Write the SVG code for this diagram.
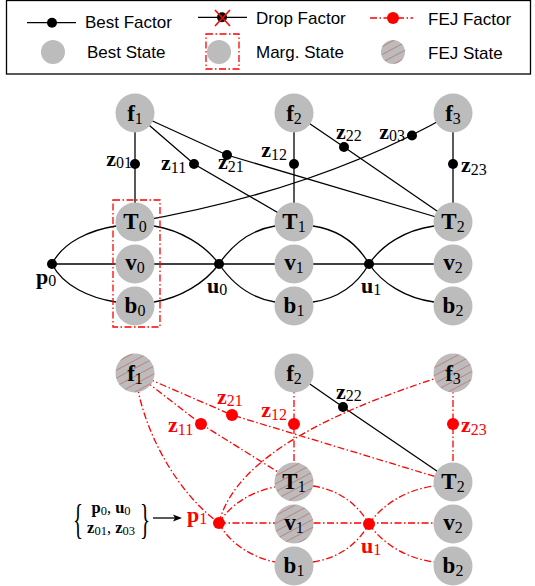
<svg xmlns="http://www.w3.org/2000/svg" width="535" height="586" viewBox="0 0 535 586">
<style>
.bg{fill:#fff}
.st{fill:#bcbcbc}
.e{stroke:#000;stroke-width:1.3;fill:none}
.r{stroke:#f00;stroke-width:1.3;fill:none;stroke-dasharray:7 2.5 1.5 2.5}
.fd{fill:#000}
.rd{fill:#f00}
.leg{font-family:"Liberation Sans",Arial,sans-serif;font-size:17px;fill:#000}
.nl{font-family:"Liberation Serif","Times New Roman",serif;font-size:23px;font-weight:bold;text-anchor:middle;fill:#000}
.fl{font-family:"Liberation Serif","Times New Roman",serif;font-size:22px;font-weight:bold;fill:#000}
.red{fill:#f00}
.sub{font-weight:normal;font-size:16px}
.nsub{font-weight:normal;font-size:16px}
.br{font-family:"Liberation Serif","Times New Roman",serif;font-size:16.5px;font-weight:bold;text-anchor:middle;fill:#000}
.bsub{font-weight:normal;font-size:12.5px}
</style>
<defs>
<pattern id="hatch" patternUnits="userSpaceOnUse" width="7" height="7" patternTransform="rotate(-28)">
<rect width="7" height="7" fill="#bcbcbc"/>
<line x1="0" y1="3.5" x2="7" y2="3.5" stroke="#c46a6a" stroke-width="0.7"/>
</pattern>
</defs>
<rect class="bg" x="0" y="0" width="535" height="586"/>

<!-- Legend -->
<g id="legend">
<rect x="6.5" y="0.5" width="524" height="73.5" fill="none" stroke="#000" stroke-width="1.3"/>
<path class="e" d="M27,22.7 H76"/>
<circle class="fd" cx="52" cy="22.7" r="5"/>
<text class="leg" x="85" y="28">Best Factor</text>
<path class="e" d="M198,17.3 H247"/>
<circle class="fd" cx="222" cy="17.3" r="5"/>
<path d="M215,10 L230,26 M230,10 L215,26" stroke="#f00" stroke-width="1.6" fill="none"/>
<text class="leg" x="256" y="23.5">Drop Factor</text>
<path class="r" d="M370,18 H413"/>
<circle class="rd" cx="393" cy="18" r="6"/>
<text class="leg" x="428" y="25">FEJ Factor</text>
<circle class="st" cx="53" cy="52" r="12"/>
<text class="leg" x="87" y="58">Best State</text>
<circle class="st" cx="219" cy="52" r="12"/>
<rect x="206" y="34" width="33" height="35" class="r" stroke-width="1.4"/>
<text class="leg" x="256" y="58">Marg. State</text>
<circle cx="393" cy="52" r="12" fill="url(#hatch)"/>
<text class="leg" x="428" y="59">FEJ State</text>
</g>

<!-- Top graph connectors -->
<g id="top-connectors">
<path class="e" d="M135,113 V222"/>
<path class="e" d="M135,113 L194,164 L294,222"/>
<path class="e" d="M135,113 L227,155 L453,222"/>
<path class="e" d="M294,113 V222"/>
<path class="e" d="M294,113 L344,147 L453,222"/>
<path class="e" d="M453,113 Q320,190 135,222"/>
<path class="e" d="M453,113 V222"/>
<path class="e" d="M52,264 C63,242 90,230 116,226"/>
<path class="e" d="M52,264 H219"/>
<path class="e" d="M52,264 C63,286 90,298 116,302"/>
<path class="e" d="M154,226 C180,230 205,245 219,264"/>
<path class="e" d="M154,302 C180,298 205,283 219,264"/>
<path class="e" d="M219,264 C232,245 250,230 275,226"/>
<path class="e" d="M219,264 C232,283 250,298 275,302"/>
<path class="e" d="M219,264 H453"/>
<path class="e" d="M313,226 C340,230 358,245 369,264"/>
<path class="e" d="M313,302 C340,298 358,283 369,264"/>
<path class="e" d="M369,264 C382,245 405,230 434,226"/>
<path class="e" d="M369,264 C382,283 405,298 434,302"/>
</g>

<!-- Top graph nodes -->
<g id="f1_top"><circle class="st" cx="135" cy="113" r="19.5"/><text class="nl" x="135" y="121" font-weight="normal">f<tspan class="nsub" dy="3">1</tspan></text></g>
<g id="f2_top"><circle class="st" cx="294" cy="113" r="19.5"/><text class="nl" x="294" y="121" font-weight="normal">f<tspan class="nsub" dy="3">2</tspan></text></g>
<g id="f3_top"><circle class="st" cx="453" cy="113" r="19.5"/><text class="nl" x="453" y="121" font-weight="normal">f<tspan class="nsub" dy="3">3</tspan></text></g>
<g id="T0"><circle class="st" cx="135" cy="222" r="19.5"/><text class="nl" x="135" y="229">T<tspan class="nsub" dy="3">0</tspan></text></g>
<g id="v0"><circle class="st" cx="135" cy="264" r="19.5"/><text class="nl" x="135" y="270">v<tspan class="nsub" dy="3">0</tspan></text></g>
<g id="b0"><circle class="st" cx="135" cy="306" r="19.5"/><text class="nl" x="135" y="313">b<tspan class="nsub" dy="3">0</tspan></text></g>
<g id="T1_top"><circle class="st" cx="294" cy="222" r="19.5"/><text class="nl" x="294" y="229">T<tspan class="nsub" dy="3">1</tspan></text></g>
<g id="v1_top"><circle class="st" cx="294" cy="264" r="19.5"/><text class="nl" x="294" y="270">v<tspan class="nsub" dy="3">1</tspan></text></g>
<g id="b1_top"><circle class="st" cx="294" cy="306" r="19.5"/><text class="nl" x="294" y="313">b<tspan class="nsub" dy="3">1</tspan></text></g>
<g id="T2_top"><circle class="st" cx="453" cy="222" r="19.5"/><text class="nl" x="453" y="229">T<tspan class="nsub" dy="3">2</tspan></text></g>
<g id="v2_top"><circle class="st" cx="453" cy="264" r="19.5"/><text class="nl" x="453" y="270">v<tspan class="nsub" dy="3">2</tspan></text></g>
<g id="b2_top"><circle class="st" cx="453" cy="306" r="19.5"/><text class="nl" x="453" y="313">b<tspan class="nsub" dy="3">2</tspan></text></g>
<g id="marg-box"><rect x="113" y="200" width="47" height="127" class="r" stroke-width="1.6"/></g>

<!-- Top graph factors -->
<g id="z01_top"><circle class="fd" cx="135" cy="164" r="5"/><text class="fl" x="132" y="166" text-anchor="end">z<tspan class="sub" dy="2">01</tspan></text></g>
<g id="z11_top"><circle class="fd" cx="194" cy="164" r="5"/><text class="fl" x="161" y="170">z<tspan class="sub" dy="3">11</tspan></text></g>
<g id="z21_top"><circle class="fd" cx="227" cy="155" r="5"/><text class="fl" x="218" y="169">z<tspan class="sub" dy="3">21</tspan></text></g>
<g id="z12_top"><circle class="fd" cx="294" cy="164" r="5"/><text class="fl" x="287" y="157" text-anchor="end">z<tspan class="sub" dy="3">12</tspan></text></g>
<g id="z22_top"><circle class="fd" cx="344" cy="147" r="5"/><text class="fl" x="336" y="139">z<tspan class="sub" dy="2">22</tspan></text></g>
<g id="z03_top"><circle class="fd" cx="412" cy="135.5" r="5"/><text class="fl" x="405" y="138.5" text-anchor="end">z<tspan class="sub" dy="2">03</tspan></text></g>
<g id="z23_top"><circle class="fd" cx="453" cy="164" r="5"/><text class="fl" x="461" y="171.5">z<tspan class="sub" dy="3">23</tspan></text></g>
<g id="p0"><circle class="fd" cx="52" cy="264" r="5"/><text class="fl" x="36" y="284">p<tspan class="sub" dy="2">0</tspan></text></g>
<g id="u0"><circle class="fd" cx="219" cy="264" r="5"/><text class="fl" x="207" y="293">u<tspan class="sub" dy="2">0</tspan></text></g>
<g id="u1_top"><circle class="fd" cx="369" cy="264" r="5"/><text class="fl" x="361" y="293">u<tspan class="sub" dy="2">1</tspan></text></g>

<!-- Bottom graph connectors -->
<g id="bottom-connectors">
<path class="r" d="M135,373 L201,424 L294,482"/>
<path class="r" d="M135,373 L232,415 L453,482"/>
<path class="r" d="M294,373 V482"/>
<path class="e" d="M294,373 L343,407 L453,482"/>
<path class="r" d="M453,373 V482"/>
<path class="r" d="M135,373 C143,435 180,495 219,523"/>
<path class="r" d="M219,523 C232,470 300,420 453,373"/>
<path class="r" d="M219,523 C230,505 250,492 275,487"/>
<path class="r" d="M219,523 H453"/>
<path class="r" d="M219,523 C230,545 255,558 275,562"/>
<path class="r" d="M313,486 C340,490 358,505 369,524"/>
<path class="r" d="M313,562 C340,558 358,543 369,524"/>
<path class="r" d="M369,524 C382,505 405,490 434,486"/>
<path class="r" d="M369,524 C382,543 405,558 434,562"/>
<path d="M153,518 H176" stroke="#000" stroke-width="1.3" fill="none"/>
<path d="M182,518 L173,514.5 L175,518 L173,521.5 Z" fill="#000"/>
</g>

<!-- Bottom graph nodes -->
<g id="f1_bot"><circle cx="135" cy="373" r="19.5" fill="url(#hatch)"/><text class="nl" x="135" y="381" font-weight="normal">f<tspan class="nsub" dy="3">1</tspan></text></g>
<g id="f2_bot"><circle class="st" cx="294" cy="373" r="19.5"/><text class="nl" x="294" y="381" font-weight="normal">f<tspan class="nsub" dy="3">2</tspan></text></g>
<g id="f3_bot"><circle cx="453" cy="373" r="19.5" fill="url(#hatch)"/><text class="nl" x="453" y="381" font-weight="normal">f<tspan class="nsub" dy="3">3</tspan></text></g>
<g id="T1_bot"><circle cx="294" cy="482" r="19.5" fill="url(#hatch)"/><text class="nl" x="294" y="489">T<tspan class="nsub" dy="3">1</tspan></text></g>
<g id="v1_bot"><circle cx="294" cy="524" r="19.5" fill="url(#hatch)"/><text class="nl" x="294" y="530">v<tspan class="nsub" dy="3">1</tspan></text></g>
<g id="b1_bot"><circle class="st" cx="294" cy="566" r="19.5"/><text class="nl" x="294" y="573">b<tspan class="nsub" dy="3">1</tspan></text></g>
<g id="T2_bot"><circle class="st" cx="453" cy="482" r="19.5"/><text class="nl" x="453" y="489">T<tspan class="nsub" dy="3">2</tspan></text></g>
<g id="v2_bot"><circle class="st" cx="453" cy="524" r="19.5"/><text class="nl" x="453" y="530">v<tspan class="nsub" dy="3">2</tspan></text></g>
<g id="b2_bot"><circle class="st" cx="453" cy="566" r="19.5"/><text class="nl" x="453" y="573">b<tspan class="nsub" dy="3">2</tspan></text></g>

<!-- Bottom graph factors -->
<g id="z11_bot"><circle class="rd" cx="201" cy="424" r="6"/><text class="fl red" x="168" y="432">z<tspan class="sub" dy="3">11</tspan></text></g>
<g id="z21_bot"><circle class="rd" cx="232" cy="415" r="6"/><text class="fl red" x="217" y="404">z<tspan class="sub" dy="2">21</tspan></text></g>
<g id="z12_bot"><circle class="rd" cx="294" cy="424" r="6"/><text class="fl red" x="287" y="417" text-anchor="end">z<tspan class="sub" dy="3">12</tspan></text></g>
<g id="z22_bot"><circle class="fd" cx="343" cy="407" r="5"/><text class="fl" x="336" y="399">z<tspan class="sub" dy="2">22</tspan></text></g>
<g id="z23_bot"><circle class="rd" cx="453" cy="424" r="6"/><text class="fl red" x="461" y="431.5">z<tspan class="sub" dy="3">23</tspan></text></g>
<g id="u1_bot"><circle class="rd" cx="369" cy="524" r="6"/><text class="fl red" x="361" y="553">u<tspan class="sub" dy="2">1</tspan></text></g>
<g id="p1"><circle class="rd" cx="219" cy="523" r="6"/><text class="fl red" x="187" y="522">p<tspan class="sub" dy="2">1</tspan></text></g>

<!-- Marginal prior annotation -->
<g id="prior-label">
<text x="0" y="0" font-family="'Liberation Serif',serif" font-size="42" transform="translate(78,533) scale(0.5,1)" text-anchor="middle">{</text>
<text x="0" y="0" font-family="'Liberation Serif',serif" font-size="42" transform="translate(145,533) scale(0.5,1)" text-anchor="middle">}</text>
<text class="br" x="111" y="513">p<tspan class="bsub" dy="2">0</tspan><tspan font-weight="normal" dy="-2">, </tspan>u<tspan class="bsub" dy="2">0</tspan></text>
<text class="br" x="111" y="533">z<tspan class="bsub" dy="2">01</tspan><tspan font-weight="normal" dy="-2">, </tspan>z<tspan class="bsub" dy="2">03</tspan></text>
</g>
</svg>
